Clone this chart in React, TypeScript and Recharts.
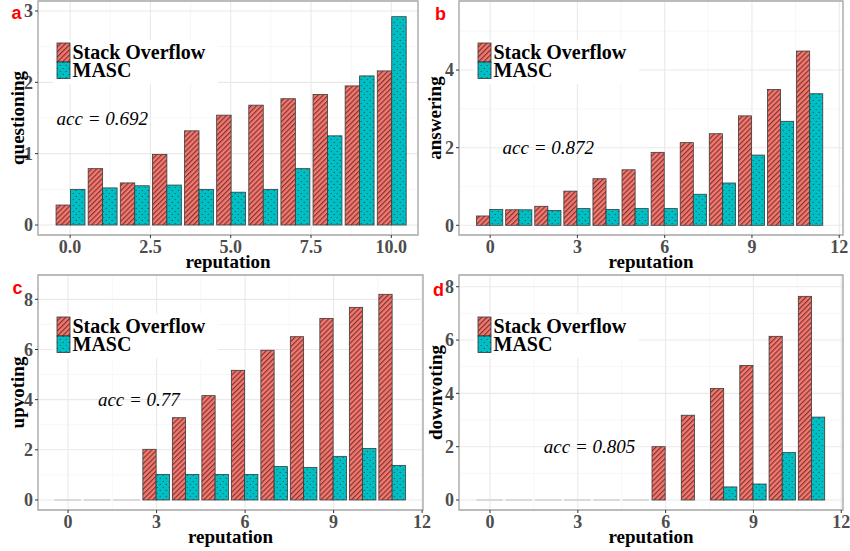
import React from "react";
import {
  BarChart,
  Bar,
  XAxis,
  YAxis,
  CartesianGrid,
  Legend,
  ReferenceDot,
  ReferenceArea,
} from "recharts";

// reputation levels (x axis)
const repA = [0, 1, 2, 3, 4, 5, 6, 7, 8, 9, 10];
const repBCD = [0, 1, 2, 3, 4, 5, 6, 7, 8, 9, 10, 11];

// a) questioning
const soQuestioning = [0.28, 0.79, 0.59, 0.99, 1.32, 1.54, 1.68, 1.77, 1.83, 1.95, 2.16];
const mascQuestioning = [0.5, 0.52, 0.55, 0.56, 0.5, 0.46, 0.5, 0.79, 1.25, 2.09, 2.92];

// b) answering
const soAnswering = [0.24, 0.4, 0.49, 0.88, 1.2, 1.43, 1.88, 2.13, 2.36, 2.82, 3.5, 4.49];
const mascAnswering = [0.41, 0.4, 0.38, 0.43, 0.41, 0.43, 0.43, 0.8, 1.09, 1.81, 2.68, 3.39];

// c) upvoting
const soUpvoting = [0, 0, 0, 2.02, 3.28, 4.16, 5.17, 5.97, 6.51, 7.24, 7.68, 8.2];
const mascUpvoting = [0, 0, 0, 1.02, 1.02, 1.02, 1.02, 1.33, 1.3, 1.74, 2.05, 1.38];

// d) downvoting (null = no bar at all)
const soDownvoting = [0, 0, 0, 0, 0, 0, 2.0, 3.18, 4.18, 5.05, 6.14, 7.64];
const mascDownvoting = [0, 0, 0, 0, 0, 0, null, null, 0.49, 0.6, 1.78, 3.11];

// axis ticks (major + minor grid)
const xTicksA = [0, 2.5, 5, 7.5, 10];
const xMinorA = [1.25, 3.75, 6.25, 8.75];
const xTicksRep = [0, 3, 6, 9, 12];
const xMinorRep = [1.5, 4.5, 7.5, 10.5];
const yTicksQ = [0, 1, 2, 3];
const yMinorQ = [0.5, 1.5, 2.5];
const yTicksAns = [0, 2, 4];
const yMinorAns = [1, 3, 5];
const yTicksVote = [0, 2, 4, 6, 8];
const yMinorVote = [1, 3, 5, 7];

const SERIES = ["Stack Overflow", "MASC"];

const SERIF = "'Liberation Serif', 'Times New Roman', serif";
const SO_COLOR = "#F8766D";
const MASC_COLOR = "#00BFC4";

const tickStyle = { fill: "#4d4d4d", fontSize: 18, fontWeight: 700, fontFamily: SERIF };
const titleStyle = { fill: "#000", fontSize: 19, fontWeight: 700, fontFamily: SERIF };

// zero values get minPointSize=1, drawn as a light grey dash like ggplot does
const barShape = (props: any) => {
  const { x, y, width, height, fill } = props;
  if (height == null || isNaN(height)) return <g />;
  if (Math.abs(height) <= 1.01) {
    const base = y + height;
    return <line x1={x} x2={x + width} y1={base} y2={base} stroke="#d6d6d6" strokeWidth={1.8} />;
  }
  return (
    <rect x={x} y={y} width={width} height={height} fill={fill} stroke="#3a3a3a" strokeWidth={0.8} />
  );
};

const renderLegend = (props: any) => {
  const payload = [...(props.payload || [])].sort(
    (a: any, b: any) => SERIES.indexOf(a.value) - SERIES.indexOf(b.value)
  );
  return (
    <svg width={165} height={44} style={{ display: "block" }}>
      <rect x={0} y={0} width={165} height={44} fill="#fff" />
      {payload.map((p: any, i: number) => (
        <g key={p.value}>
          <rect
            x={4}
            y={i === 0 ? 3 : 22}
            width={13}
            height={i === 0 ? 19 : 16.5}
            fill={p.color}
            stroke="#333"
            strokeWidth={0.8}
          />
          <text x={19.5} y={i === 0 ? 19.3 : 36.7} fontFamily={SERIF} fontWeight={700} fontSize={20} fill="#000">
            {p.value}
          </text>
        </g>
      ))}
    </svg>
  );
};

interface PanelProps {
  letter: string;
  left: number;
  top: number;
  width: number;
  height: number;
  margin: { top: number; right: number; bottom: number; left: number };
  yAxisWidth: number;
  yLabel: string;
  yLabelOffset: number;
  rep: number[];
  so: (number | null)[];
  masc: (number | null)[];
  xDomain: [number, number];
  xTicks: number[];
  xMinor: number[];
  xFmt?: (v: number) => string;
  yDomain: [number, number];
  yTicks: number[];
  yMinor: number[];
  acc: string;
  accX: number;
  accY: number;
  letterTop: number;
  letterLeft: number;
}

function Panel(p: PanelProps) {
  const data = p.rep.map((r, i) => ({ rep: r, so: p.so[i], masc: p.masc[i] }));
  const plotW = p.width - p.margin.left - p.margin.right - p.yAxisWidth;
  const unit = plotW / (p.xDomain[1] - p.xDomain[0]);
  const barSize = unit * 0.45;
  const plotLeft = p.margin.left + p.yAxisWidth;

  return (
    <div style={{ position: "absolute", left: p.left, top: p.top, width: p.width, height: p.height }}>
      <BarChart width={p.width} height={p.height} data={data} margin={p.margin} barGap={0}>
        <defs>
          <pattern
            id={`so-${p.letter}`}
            width={3.6}
            height={3.6}
            patternUnits="userSpaceOnUse"
            patternTransform="rotate(45)"
          >
            <rect width={3.6} height={3.6} fill={SO_COLOR} />
            <line x1={0.6} y1={0} x2={0.6} y2={3.6} stroke="#6b3430" strokeWidth={1.1} />
          </pattern>
          <pattern id={`masc-${p.letter}`} width={6} height={6} patternUnits="userSpaceOnUse">
            <rect width={6} height={6} fill={MASC_COLOR} />
            <circle cx={1.2} cy={1.5} r={0.55} fill="#16484a" />
            <circle cx={4.2} cy={4.4} r={0.55} fill="#16484a" />
          </pattern>
        </defs>
        <CartesianGrid stroke="#f4f4f4" strokeWidth={0.7} horizontalValues={p.yMinor} verticalValues={p.xMinor} />
        <CartesianGrid stroke="#e9e9e9" strokeWidth={1.1} />
        <XAxis
          dataKey="rep"
          type="number"
          domain={p.xDomain}
          ticks={p.xTicks}
          interval={0}
          allowDataOverflow
          tickFormatter={p.xFmt}
          axisLine={false}
          tickLine={{ stroke: "#333" }}
          tickSize={3}
          tickMargin={2}
          height={35}
          tick={tickStyle}
          label={{ value: "reputation", position: "insideBottom", offset: 2, style: titleStyle }}
        />
        <YAxis
          type="number"
          domain={p.yDomain}
          ticks={p.yTicks}
          interval={0}
          allowDataOverflow
          axisLine={false}
          tickLine={{ stroke: "#333" }}
          tickSize={3}
          tickMargin={2}
          width={p.yAxisWidth}
          tick={tickStyle}
          label={{
            value: p.yLabel,
            angle: -90,
            position: "insideLeft",
            offset: p.yLabelOffset,
            style: { ...titleStyle, textAnchor: "middle" },
          }}
        />
        <Legend
          layout="vertical"
          align="center"
          verticalAlign="middle"
          content={renderLegend}
          wrapperStyle={{ left: plotLeft + 15, top: p.margin.top + 39, width: 165, height: 44 }}
        />
        <ReferenceDot
          x={p.accX}
          y={p.accY}
          r={0}
          fill="none"
          stroke="none"
          label={{
            value: p.acc,
            position: "center",
            fill: "#000",
            fontSize: 19,
            fontStyle: "italic",
            fontFamily: SERIF,
          }}
        />
        <Bar
          dataKey="so"
          name="Stack Overflow"
          fill={`url(#so-${p.letter})`}
          barSize={barSize}
          minPointSize={1}
          shape={barShape}
          isAnimationActive={false}
        />
        <Bar
          dataKey="masc"
          name="MASC"
          fill={`url(#masc-${p.letter})`}
          barSize={barSize}
          minPointSize={1}
          shape={barShape}
          isAnimationActive={false}
        />
        <ReferenceArea
          x1={p.xDomain[0]}
          x2={p.xDomain[1]}
          y1={p.yDomain[0]}
          y2={p.yDomain[1]}
          fill="none"
          stroke="#a8a8a8"
          strokeWidth={1.3}
          ifOverflow="visible"
        />
      </BarChart>
      <div
        style={{
          position: "absolute",
          left: p.letterLeft,
          top: p.letterTop,
          fontFamily: "'Liberation Sans', Arial, sans-serif",
          fontWeight: 700,
          fontSize: 18,
          lineHeight: "18px",
          color: "#ff0000",
        }}
      >
        {p.letter}
      </div>
    </div>
  );
}

export default function App() {
  return (
    <div style={{ position: "absolute", left: 0, top: 0, width: 850, height: 551, background: "#fff", overflow: "hidden" }}>
      <Panel
        letter="a"
        left={0}
        top={0}
        width={425}
        height={275}
        margin={{ top: 1, right: 7, bottom: 5, left: 0 }}
        yAxisWidth={38}
        yLabel="questioning"
        yLabelOffset={17}
        rep={repA}
        so={soQuestioning}
        masc={mascQuestioning}
        xDomain={[-1.0, 10.83]}
        xTicks={xTicksA}
        xMinor={xMinorA}
        xFmt={(v: number) => v.toFixed(1)}
        yDomain={[-0.14, 3.14]}
        yTicks={yTicksQ}
        yMinor={yMinorQ}
        acc="acc = 0.692"
        accX={1}
        accY={1.5}
        letterLeft={11.5}
        letterTop={3.8}
      />
      <Panel
        letter="b"
        left={425}
        top={0}
        width={425}
        height={275}
        margin={{ top: 1, right: 7, bottom: 5, left: 0 }}
        yAxisWidth={34}
        yLabel="answering"
        yLabelOffset={9}
        rep={repBCD}
        so={soAnswering}
        masc={mascAnswering}
        xDomain={[-1.07, 12.13]}
        xTicks={xTicksRep}
        xMinor={xMinorRep}
        yDomain={[-0.25, 5.78]}
        yTicks={yTicksAns}
        yMinor={yMinorAns}
        acc="acc = 0.872"
        accX={2}
        accY={2}
        letterLeft={10}
        letterTop={4.8}
      />
      <Panel
        letter="c"
        left={0}
        top={270}
        width={437}
        height={281}
        margin={{ top: 5, right: 14, bottom: 6, left: 0 }}
        yAxisWidth={38}
        yLabel="upvoting"
        yLabelOffset={17}
        rep={repBCD}
        so={soUpvoting}
        masc={mascUpvoting}
        xDomain={[-1.02, 12.03]}
        xTicks={xTicksRep}
        xMinor={xMinorRep}
        yDomain={[-0.4, 8.97]}
        yTicks={yTicksVote}
        yMinor={yMinorVote}
        acc="acc = 0.77"
        accX={2.4}
        accY={4}
        letterLeft={12.5}
        letterTop={8.8}
      />
      <Panel
        letter="d"
        left={425}
        top={270}
        width={425}
        height={281}
        margin={{ top: 5, right: 7, bottom: 6, left: 0 }}
        yAxisWidth={34}
        yLabel="downvoting"
        yLabelOffset={10}
        rep={repBCD}
        so={soDownvoting}
        masc={mascDownvoting}
        xDomain={[-1.06, 12.06]}
        xTicks={xTicksRep}
        xMinor={xMinorRep}
        yDomain={[-0.375, 8.44]}
        yTicks={yTicksVote}
        yMinor={yMinorVote}
        acc="acc = 0.805"
        accX={3.4}
        accY={2}
        letterLeft={8}
        letterTop={10.8}
      />
    </div>
  );
}
